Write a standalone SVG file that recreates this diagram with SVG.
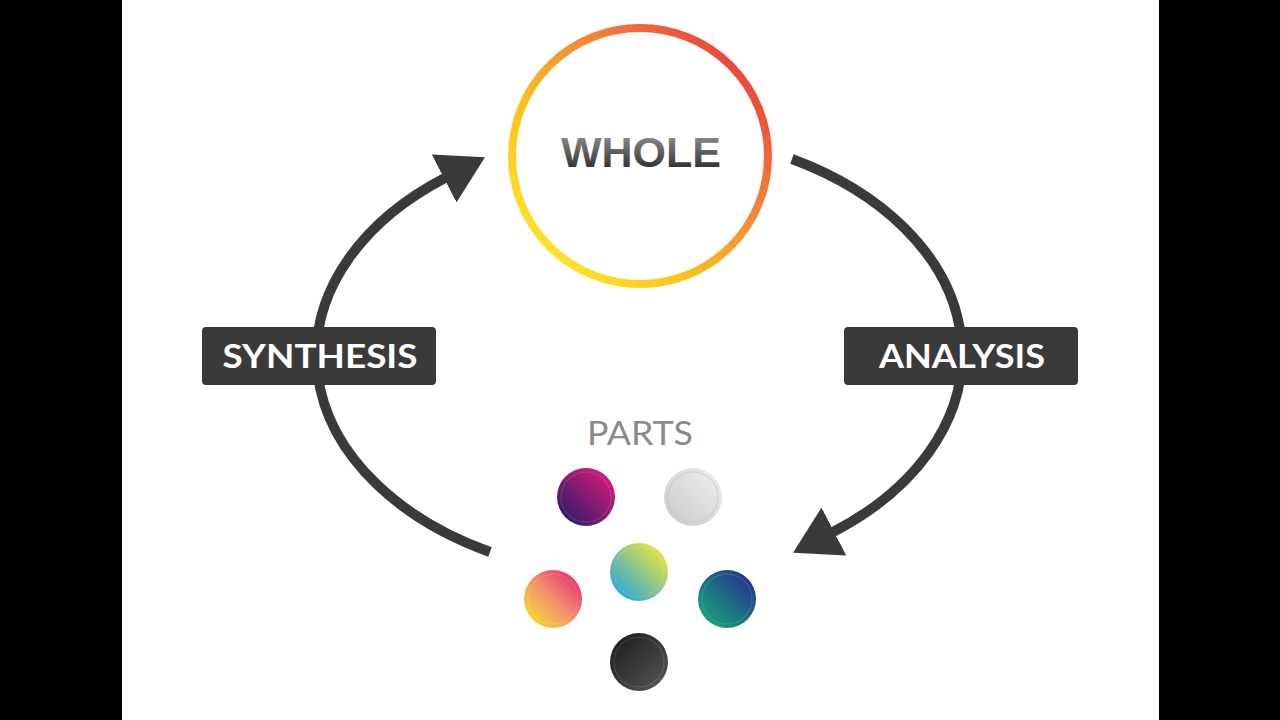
<svg xmlns="http://www.w3.org/2000/svg" width="1280" height="720" viewBox="0 0 1280 720">
  <style>
    .arc { fill: none; stroke: #3a3a3a; stroke-width: 10; }
    .box { fill: #3a3a3a; }
    .lbl { font-family: Lato, "Liberation Sans", sans-serif; font-weight: 700; font-size: 32px; fill: #ffffff; text-anchor: middle; }
    .whole { font-family: "Liberation Sans", Arial, sans-serif; font-weight: 700; font-size: 43px; text-anchor: middle; }
    .parts { font-family: Lato, "Liberation Sans", sans-serif; font-weight: 400; font-size: 33px; fill: #8a8a8a; text-anchor: middle; }
    .rim { fill: none; stroke: #ffffff; stroke-opacity: 0.1; stroke-width: 1.5; }
  </style>
  <defs>
    <marker id="head" markerUnits="userSpaceOnUse" viewBox="0 0 46 54" refX="1" refY="27" markerWidth="46" markerHeight="54" orient="auto">
      <path d="M0,0 L46,27 L0,54 Z" fill="#3a3a3a"/>
    </marker>
    <linearGradient id="ring" gradientUnits="userSpaceOnUse" x1="760" y1="50" x2="545" y2="262">
      <stop offset="0" stop-color="#e8353b"/>
      <stop offset="0.35" stop-color="#f2803a"/>
      <stop offset="0.7" stop-color="#fbc21e"/>
      <stop offset="1" stop-color="#fde52a"/>
    </linearGradient>
    <linearGradient id="wholeText" gradientUnits="userSpaceOnUse" x1="0" y1="136" x2="0" y2="168">
      <stop offset="0" stop-color="#8a8a8a"/>
      <stop offset="1" stop-color="#333333"/>
    </linearGradient>
    <linearGradient id="g1" x1="1" y1="0" x2="0" y2="1">
      <stop offset="0.1" stop-color="#d81b7a"/>
      <stop offset="0.9" stop-color="#2a1c68"/>
    </linearGradient>
    <linearGradient id="g2" x1="1" y1="0" x2="0" y2="1">
      <stop offset="0" stop-color="#efefef"/>
      <stop offset="1" stop-color="#c9c9c9"/>
    </linearGradient>
    <linearGradient id="g3" x1="1" y1="0" x2="0" y2="1">
      <stop offset="0.1" stop-color="#ece43a"/>
      <stop offset="0.9" stop-color="#27a6e0"/>
    </linearGradient>
    <linearGradient id="g4" x1="1" y1="0" x2="0" y2="1">
      <stop offset="0.1" stop-color="#e82f6e"/>
      <stop offset="0.5" stop-color="#f2906c"/>
      <stop offset="0.9" stop-color="#f5d92e"/>
    </linearGradient>
    <linearGradient id="g5" x1="1" y1="0" x2="0" y2="1">
      <stop offset="0.1" stop-color="#26338c"/>
      <stop offset="0.9" stop-color="#17a47a"/>
    </linearGradient>
    <linearGradient id="g6" x1="0" y1="0" x2="1" y2="1">
      <stop offset="0.1" stop-color="#1e1e1e"/>
      <stop offset="0.9" stop-color="#525252"/>
    </linearGradient>
  </defs>

  <rect x="0" y="0" width="1280" height="720" fill="#ffffff"/>
  <rect x="0" y="0" width="122" height="720" fill="#000000"/>
  <rect x="1159" y="0" width="121" height="720" fill="#000000"/>

  <g id="connectors">
    <path id="analysis-arc" class="arc" d="M792,159 A323,222 0 0 1 833,532" marker-end="url(#head)"/>
    <path id="synthesis-arc" class="arc" d="M490,552 A323,222 0 0 1 445,178" marker-end="url(#head)"/>
  </g>

  <g id="node-whole">
    <circle cx="640" cy="156" r="128" fill="#ffffff" stroke="url(#ring)" stroke-width="8"/>
    <text class="whole" x="641" y="167" fill="url(#wholeText)">WHOLE</text>
  </g>

  <g id="label-synthesis">
    <rect class="box" x="202" y="327" width="234" height="58" rx="4"/>
    <text class="lbl" x="320" y="368" textLength="195" lengthAdjust="spacingAndGlyphs">SYNTHESIS</text>
  </g>

  <g id="label-analysis">
    <rect class="box" x="844" y="327" width="234" height="58" rx="4"/>
    <text class="lbl" x="962" y="368" textLength="166" lengthAdjust="spacingAndGlyphs">ANALYSIS</text>
  </g>

  <g id="node-parts">
    <text class="parts" x="640" y="445" textLength="106" lengthAdjust="spacingAndGlyphs">PARTS</text>
    <circle cx="586" cy="497" r="29" fill="url(#g1)"/>
    <circle class="rim" cx="586" cy="497" r="25"/>
    <circle cx="693" cy="497" r="29" fill="url(#g2)"/>
    <circle cx="693" cy="497" r="25" fill="none" stroke="#c4c4c4" stroke-opacity="0.5" stroke-width="1.5"/>
    <circle cx="639" cy="572" r="29" fill="url(#g3)"/>
    <circle class="rim" cx="639" cy="572" r="25"/>
    <circle cx="553" cy="599" r="29" fill="url(#g4)"/>
    <circle class="rim" cx="553" cy="599" r="25"/>
    <circle cx="727" cy="599" r="29" fill="url(#g5)"/>
    <circle class="rim" cx="727" cy="599" r="25"/>
    <circle cx="639" cy="662" r="29" fill="url(#g6)"/>
    <circle class="rim" cx="639" cy="662" r="25"/>
  </g>
</svg>
